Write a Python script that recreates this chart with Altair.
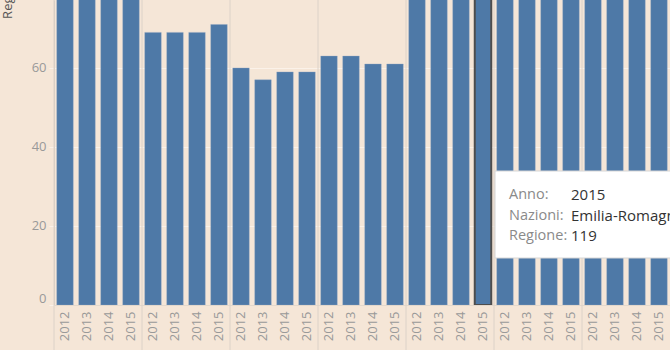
import altair as alt
import pandas as pd

regions = ["Abruzzo", "Basilicata", "Calabria", "Campania",
           "Emilia-Romagna", "Friuli-Venezia Giulia", "Lazio"]
years = [2012, 2013, 2014, 2015]
values = {
    "Abruzzo": [84, 84, 83, 85],
    "Basilicata": [69, 69, 69, 71],
    "Calabria": [60, 57, 59, 59],
    "Campania": [63, 63, 61, 61],
    "Emilia-Romagna": [117, 118, 118, 119],
    "Friuli-Venezia Giulia": [110, 111, 111, 112],
    "Lazio": [101, 101, 100, 101],
}
y_ticks = [0, 20, 40, 60]
hover_region = "Emilia-Romagna"
hover_year = 2015
tip_labels = ["Anno:", "Nazioni:", "Regione:"]

rows = []
for r in regions:
    for yr, v in zip(years, values[r]):
        rows.append({"key": f"{r}|{yr}", "Nazioni": r, "Anno": yr, "Regione": v,
                     "first": yr == years[0],
                     "hover": (r == hover_region and yr == hover_year)})
df = pd.DataFrame(rows)
order = list(df["key"])

hv = df[df["hover"]].iloc[0]
tip_values = [str(hv["Anno"]), hv["Nazioni"], str(hv["Regione"])]
tip_df = pd.DataFrame({"label": tip_labels, "value": tip_values, "row": [0, 1, 2]})

BG = "#f5e6d7"
BAR = "#4e79a7"
FONT = "Open Sans"
LBL = "#999999"

xenc = alt.X("key:N", sort=order,
             scale=alt.Scale(paddingInner=0.25, paddingOuter=0.125),
             axis=alt.Axis(labelAngle=-90, labelPadding=6, ticks=False, title=None,
                           labelExpr="split(datum.label, '|')[1]",
                           domainColor="#e3d8cc", labelColor=LBL, labelFont=FONT,
                           labelFontSize=13, grid=False))
yscale = alt.Scale(domain=[0, 77.2], nice=False, zero=True)

bars = alt.Chart(df).mark_bar(clip=True, color=BAR, stroke="#8ea6c2",
                              strokeWidth=0.6, strokeOpacity=0.6).encode(
    x=xenc,
    y=alt.Y("Regione:Q", scale=yscale,
            axis=alt.Axis(values=y_ticks, grid=True, gridColor="#fbf2e9",
                          tickColor="#fbf2e9", tickSize=5, labelPadding=3,
                          domainColor="#d9cfc5", labelColor=LBL, labelFont=FONT,
                          labelFontSize=13, labelFlush=True,
                          title="Regione", titleX=-47, titleY=-6, titleAngle=270,
                          titleAlign="center", titleBaseline="middle",
                          titleColor="#555555", titleFont=FONT, titleFontSize=13,
                          titleFontWeight="normal")),
)

hover_bar = alt.Chart(df).transform_filter("datum.hover").mark_bar(
    clip=True, color=BAR, stroke="#4d4d4d", strokeWidth=2).encode(
    x=alt.X("key:N", sort=order), y=alt.Y("Regione:Q", scale=yscale))

seps = alt.Chart(df).transform_filter("datum.first").mark_rule(
    color="#dcd2c8", strokeWidth=1, xOffset=-2.75, clip=False).encode(
    x=alt.X("key:N", sort=order, bandPosition=0),
    y=alt.value(0), y2=alt.value(350))

tip_box = alt.Chart(tip_df).transform_filter("datum.row == 0").mark_rect(
    clip=True, fill="white", stroke="#d6d6d6", strokeWidth=1).encode(
    x=alt.value(441), x2=alt.value(700), y=alt.value(171), y2=alt.value(258))

rowscale = alt.Scale(domain=[0, 2], range=[195, 236], zero=False, nice=False)

tip_lab = alt.Chart(tip_df).mark_text(
    clip=True, align="left", baseline="middle", font=FONT, fontSize=14.5,
    color="#8a8a8a").encode(
    x=alt.value(455),
    y=alt.Y("row:Q", scale=rowscale, axis=None),
    text="label:N")

tip_val = alt.Chart(tip_df).mark_text(
    clip=True, align="left", baseline="middle", font=FONT, fontSize=15,
    color="#333333").encode(
    x=alt.value(517),
    y=alt.Y("row:Q", scale=rowscale, axis=None),
    text="value:N")

chart = alt.layer(bars, hover_bar, seps, tip_box, tip_lab, tip_val).resolve_scale(
    y="independent").properties(
    width=616, height=305,
    padding={"left": 54, "top": 0, "right": 0, "bottom": 45},
    autosize=alt.AutoSizeParams(type="none"),
    background=BG,
).configure_view(stroke=None, fill=BG)

chart.save("out.html", embed_options={"renderer": "svg", "actions": False})
